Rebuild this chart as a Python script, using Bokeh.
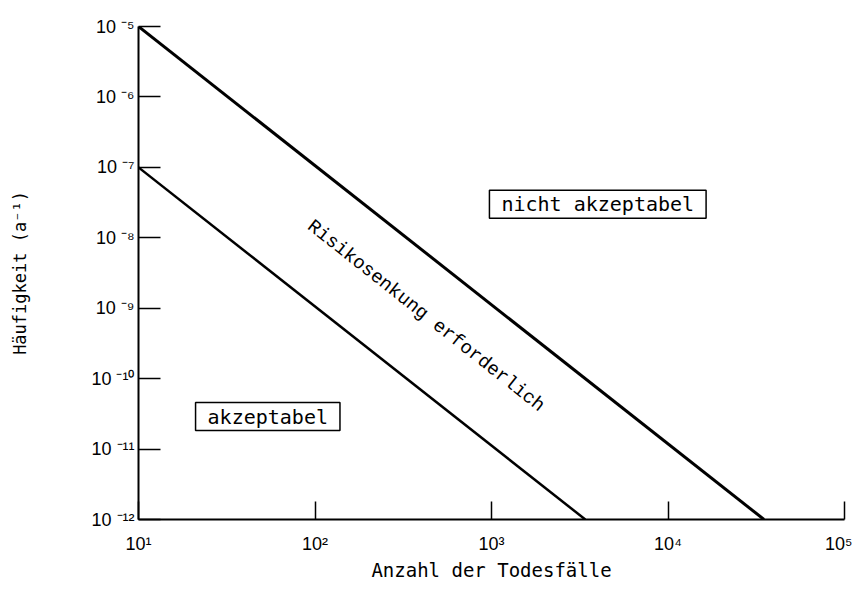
from bokeh.plotting import figure
from bokeh.models import FixedTicker, ColumnDataSource
from bokeh.embed import file_html
from bokeh.resources import INLINE
from bokeh.core.properties import value

# ---- data ----
x_ticks = [1e1, 1e2, 1e3, 1e4, 1e5]
x_tick_labels = ["10¹", "10²", "10³", "10⁴", "10⁵"]
y_ticks = [1e-12, 1e-11, 1e-10, 1e-9, 1e-8, 1e-7, 1e-6, 1e-5]
y_tick_labels = ["10 ⁻¹²", "10 ⁻¹¹", "10 ⁻¹⁰", "10 ⁻⁹", "10 ⁻⁸", "10 ⁻⁷", "10 ⁻⁶", "10 ⁻⁵"]

upper_x = [10, 35000]
upper_y = [1e-5, 1e-12]
lower_x = [10, 3400]
lower_y = [1e-7, 1e-12]

region_labels = ["nicht akzeptabel", "akzeptabel"]
region_x = [4000, 54]
region_y = [3e-8, 2.9e-11]

band_label = ["Risikosenkung erforderlich"]
band_x = [425]
band_y = [7.7e-10]

# ---- figure ----
p = figure(width=852, height=583, x_axis_type="log", y_axis_type="log",
           x_range=(1e1, 1e5), y_range=(1e-12, 1e-5),
           output_backend="svg", toolbar_location=None,
           min_border_left=138, min_border_right=8,
           min_border_top=26, min_border_bottom=56)
p.outline_line_color = None
p.xgrid.grid_line_color = None
p.ygrid.grid_line_color = None
p.background_fill_color = "white"
p.border_fill_color = "white"

p.xaxis.ticker = FixedTicker(ticks=x_ticks)
p.yaxis.ticker = FixedTicker(ticks=y_ticks)
p.xaxis.major_label_overrides = dict(zip(x_ticks, x_tick_labels))
p.yaxis.major_label_overrides = dict(zip(y_ticks, y_tick_labels))

for ax in (p.xaxis, p.yaxis):
    ax.axis_line_color = "black"
    ax.axis_line_width = 2
    ax.major_tick_line_color = "black"
    ax.major_tick_line_width = 1.5
    ax.minor_tick_line_color = None
    ax.major_tick_out = 0
    ax.major_label_text_font = "Liberation Sans"
    ax.major_label_text_font_size = "18px"
    ax.major_label_text_color = "black"
    ax.axis_label_text_font = "DejaVu Sans Mono"
    ax.axis_label_text_font_style = "normal"
    ax.axis_label_text_color = "black"

p.xaxis.major_tick_in = 18
p.yaxis.major_tick_in = 22
p.xaxis.major_label_standoff = 14
p.yaxis.major_label_standoff = 4

p.xaxis.axis_label = "Anzahl der Todesfälle"
p.xaxis.axis_label_text_font_size = "19px"
p.xaxis.axis_label_standoff = 2
p.yaxis.axis_label = "Häufigkeit (a⁻¹)"
p.yaxis.axis_label_text_font_size = "17px"
p.yaxis.axis_label_standoff = 58

# ---- lines ----
p.line(upper_x, upper_y, line_color="black", line_width=3)
p.line(lower_x, lower_y, line_color="black", line_width=2.5)

# ---- labels ----
src = ColumnDataSource(dict(x=region_x, y=region_y, t=region_labels))
p.text(x="x", y="y", text="t", source=src,
       text_font=value("DejaVu Sans Mono"), text_font_size="20px",
       text_color="black", text_align="center", text_baseline="middle",
       border_line_color="black", border_line_width=1.5,
       background_fill_color="white", padding=[12, 2])

bsrc = ColumnDataSource(dict(x=band_x, y=band_y, t=band_label))
p.text(x="x", y="y", text="t", source=bsrc,
       text_font=value("Liberation Mono"), text_font_size="19px",
       text_color="black", text_align="center", text_baseline="middle",
       angle=-0.67)

open("out.html", "w").write(file_html(p, INLINE))
